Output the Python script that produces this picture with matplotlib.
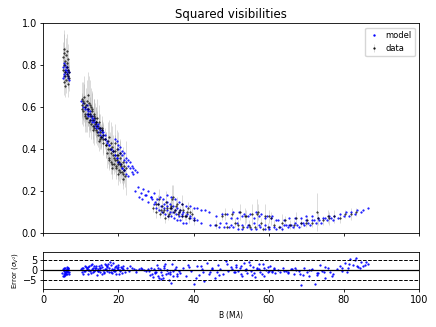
import numpy as np
import matplotlib
matplotlib.use("Agg")
import matplotlib.pyplot as plt

# model V2 points, grouped by baseline range (B in Mlambda)
mA_b = [5.2,5.4,5.5,5.7,5.8,6.0,6.1,6.3,6.4,6.6,6.7,6.9,5.3,5.6,5.9,6.2,6.5,6.8]
mA_v = [0.74,0.75,0.76,0.77,0.78,0.79,0.78,0.77,0.76,0.75,0.74,0.73,0.79,0.81,0.80,0.79,0.78,0.77]

mB_b = [10.0,10.5,11.0,11.5,12.0,12.5,13.0,13.5,14.0,14.5,
        10.5,11.0,11.5,12.0,12.5,13.0,13.5,14.0,14.5,15.0,15.5,
        11.5,12.0,12.5,13.0,13.5,14.0,14.5,15.0,15.5,16.0,16.5,
        12.0,12.5,13.0,13.5,14.0,14.5,15.0,15.5,16.0,16.5,17.0]
mB_v = [0.63,0.62,0.60,0.59,0.57,0.56,0.54,0.53,0.51,0.50,
        0.60,0.59,0.57,0.56,0.54,0.53,0.51,0.50,0.48,0.47,0.46,
        0.61,0.59,0.58,0.56,0.55,0.53,0.52,0.50,0.49,0.48,0.47,
        0.58,0.57,0.55,0.54,0.52,0.51,0.49,0.48,0.47,0.45,0.44]

mC_b = [16.5,17.0,17.5,18.0,18.5,19.0,19.5,20.0,20.5,21.0,21.5,
        17.5,18.0,18.5,19.0,19.5,20.0,20.5,21.0,21.5,22.0,22.5,
        19.0,19.5,20.0,20.5,21.0,21.5,22.0,22.5,23.0,23.5,24.0,24.5,25.0,
        20.0,20.5,21.0,21.5,22.0,22.5,23.0,23.5,24.0]
mC_v = [0.45,0.43,0.42,0.40,0.39,0.37,0.36,0.34,0.33,0.31,0.30,
        0.42,0.40,0.39,0.37,0.36,0.34,0.33,0.31,0.30,0.28,0.27,
        0.45,0.44,0.42,0.41,0.39,0.38,0.36,0.35,0.34,0.32,0.31,0.30,0.29,
        0.40,0.38,0.37,0.35,0.34,0.32,0.31,0.29,0.28]

mD_b = [24.5,25.2,25.9,26.6,27.3,28.0,28.7,29.4,25.5,26.3,27.1,27.9,28.7,29.5,30.3]
mD_v = [0.20,0.22,0.19,0.21,0.18,0.20,0.17,0.19,0.17,0.16,0.18,0.15,0.17,0.14,0.16]

mE_b = [29.0,29.8,30.6,31.4,32.2,33.0,33.8,34.6,35.4,36.2,37.0,
        31.0,31.9,32.8,33.7,34.6,35.5,36.4,37.3,38.2,39.1,40.0,
        32.0,33.0,34.0,35.0,36.0,37.0,38.0,39.0,40.0,41.0,42.0,
        33.0,34.0,35.0,36.0,37.0,38.0,39.0,40.0,41.0,42.0,43.0,44.0,
        30.0,30.8,31.6,32.4,33.2,34.0,34.8,35.6,36.4,37.2,38.0]
mE_v = [0.16,0.15,0.14,0.13,0.12,0.11,0.10,0.10,0.09,0.08,0.08,
        0.17,0.16,0.15,0.14,0.13,0.12,0.11,0.10,0.09,0.08,0.07,
        0.14,0.13,0.12,0.11,0.10,0.09,0.08,0.07,0.06,0.06,0.05,
        0.18,0.17,0.16,0.15,0.14,0.13,0.13,0.12,0.12,0.11,0.11,0.10,
        0.12,0.11,0.10,0.09,0.08,0.08,0.07,0.06,0.06,0.05,0.05]

mF_b = [46,47.5,49,50.5,52,53.5,55,56.5,58,59.5,61,
        50,51.5,53,54.5,56,57.5,59,60.5,62,
        44.5,45.7,46.9,48.1,49.3,50.5,51.7,52.9,54.1,55.3,56.5,57.7,58.9,60.1,
        47,48.5,50,51.5,53,54.5,56,57.5,59]
mF_v = [0.08,0.09,0.09,0.10,0.10,0.09,0.09,0.10,0.09,0.08,0.08,
        0.07,0.07,0.08,0.08,0.07,0.08,0.07,0.07,0.06,
        0.04,0.04,0.03,0.03,0.03,0.03,0.02,0.02,0.03,0.02,0.02,0.03,0.02,0.02,
        0.05,0.05,0.04,0.05,0.04,0.04,0.05,0.04,0.04]

mG_b = [62,63.5,65,66.5,68,69.5,71,72.5,74,75.5,77,78.5,80,81.5,83,84.5,
        64,65.5,67,68.5,70,71.5,73,74.5,76,77.5,79,80.5,82,83.5,85,86.5,
        60,61.5,63,64.5,66,67.5,69,70.5,72,73.5,75,76.5,
        62.5,64,65.5,67,68.5,70,71.5]
mG_v = [0.02,0.02,0.03,0.03,0.03,0.04,0.04,0.05,0.05,0.06,0.06,0.07,0.08,0.08,0.09,0.10,
        0.04,0.04,0.05,0.05,0.06,0.06,0.07,0.07,0.08,0.08,0.09,0.10,0.10,0.11,0.11,0.12,
        0.03,0.03,0.03,0.04,0.04,0.04,0.05,0.05,0.06,0.06,0.07,0.07,
        0.06,0.06,0.07,0.07,0.07,0.08,0.08]

# measured V2 with errors
dA_b = [5.2,5.3,5.4,5.5,5.6,5.7,5.8,5.9,6.0,6.1,6.2,6.3,6.4,6.5,6.6,6.7,6.8,6.9,5.5,5.9,6.3,6.6]
dA_v = [0.78,0.84,0.72,0.80,0.86,0.75,0.82,0.77,0.73,0.85,0.79,0.76,0.81,0.71,0.78,0.83,0.74,0.77,0.88,0.70,0.87,0.75]
dA_e = [0.05,0.07,0.06,0.08,0.09,0.06,0.07,0.05,0.06,0.08,0.07,0.05,0.06,0.06,0.05,0.07,0.06,0.05,0.09,0.05,0.08,0.06]

dB_b = [10.2,10.4,10.7,10.9,11.1,11.3,11.6,11.8,12.0,12.2,12.4,12.6,12.8,13.0,13.2,13.4,13.6,13.8,14.0,14.2,
        14.4,14.6,14.8,15.0,15.2,15.4,15.6,15.8,16.0,11.0,11.9,12.7,13.3,14.1,14.9,15.7,10.8,12.3,13.7,15.1,
        10.3,10.6,11.2,11.4,11.7,12.1,12.5,12.9,13.1,13.5,13.9,14.3,14.7,15.3,15.9,16.3,16.6]
dB_v = [0.61,0.64,0.58,0.62,0.60,0.55,0.63,0.57,0.59,0.53,0.61,0.56,0.52,0.58,0.54,0.50,0.57,0.52,0.49,0.55,
        0.51,0.47,0.53,0.48,0.50,0.46,0.49,0.45,0.47,0.56,0.66,0.60,0.49,0.53,0.44,0.50,0.65,0.57,0.55,0.45,
        0.59,0.63,0.57,0.61,0.55,0.62,0.54,0.59,0.51,0.56,0.53,0.48,0.50,0.46,0.43,0.45,0.42]
dB_e = [0.06,0.08,0.07,0.09,0.06,0.07,0.10,0.06,0.08,0.07,0.12,0.06,0.07,0.09,0.06,0.08,0.07,0.05,0.06,0.09,
        0.07,0.06,0.08,0.05,0.07,0.06,0.05,0.07,0.06,0.08,0.11,0.09,0.06,0.07,0.05,0.06,0.10,0.08,0.07,0.05,
        0.07,0.09,0.06,0.08,0.07,0.13,0.06,0.09,0.06,0.08,0.07,0.06,0.07,0.05,0.06,0.05,0.06]

dC_b = [16.8,17.0,17.3,17.5,17.8,18.0,18.2,18.5,18.7,19.0,19.2,19.4,19.7,19.9,20.1,20.4,20.6,20.9,21.1,21.4,
        21.7,22.0,17.6,18.4,19.1,19.8,20.5,21.2,18.9,20.2,
        17.1,17.4,17.9,18.3,18.6,19.3,19.6,20.0,20.3,20.8,21.3,21.6,19.5,18.1]
dC_v = [0.42,0.38,0.44,0.36,0.40,0.34,0.41,0.37,0.33,0.39,0.35,0.31,0.37,0.33,0.30,0.36,0.32,0.29,0.34,0.30,
        0.27,0.31,0.46,0.31,0.43,0.28,0.38,0.26,0.36,0.34,
        0.40,0.35,0.38,0.33,0.39,0.32,0.35,0.37,0.29,0.33,0.28,0.32,0.40,0.43]
dC_e = [0.06,0.07,0.09,0.05,0.08,0.06,0.10,0.07,0.05,0.08,0.06,0.05,0.07,0.06,0.05,0.08,0.06,0.05,0.07,0.06,
        0.05,0.13,0.08,0.05,0.09,0.05,0.07,0.05,0.06,0.06,
        0.07,0.05,0.06,0.05,0.08,0.05,0.06,0.11,0.05,0.06,0.05,0.07,0.09,0.10]

dE_b = [29.3,29.9,30.4,31.0,31.5,32.1,32.6,33.2,33.7,34.3,34.8,35.4,35.9,36.5,37.0,37.6,38.2,38.9,39.5,40.2,
        30.8,32.4,33.9,35.1,36.8,38.5,31.8,34.6,30.1,31.3,32.9,33.5,34.1,35.6,36.2,37.3,38.0,39.1]
dE_v = [0.12,0.10,0.14,0.09,0.13,0.11,0.15,0.08,0.12,0.16,0.10,0.13,0.09,0.11,0.14,0.08,0.10,0.07,0.09,0.06,
        0.16,0.07,0.13,0.11,0.08,0.12,0.10,0.17,0.14,0.11,0.12,0.09,0.12,0.14,0.10,0.11,0.08,0.10]
dE_e = [0.02,0.03,0.04,0.02,0.03,0.02,0.05,0.02,0.03,0.07,0.02,0.03,0.02,0.02,0.04,0.02,0.02,0.02,0.03,0.02,
        0.05,0.02,0.03,0.02,0.02,0.03,0.02,0.06,0.03,0.02,0.03,0.02,0.04,0.03,0.02,0.03,0.02,0.02]

dF_b = [46.0,47.5,49.0,50.2,51.0,52.3,53.1,54.0,54.8,55.6,56.4,57.2,58.0,58.9,59.7,60.5,61.4,
        48.3,51.8,53.6,55.1,56.9,58.5,60.0,
        62.8,64.3,65.7,67.2,68.6,70.1,71.6,73.0,74.5,76.0,77.4,78.9,80.3,81.8,83.2,
        63.5,66.8,69.9,72.8,75.7]
dF_v = [0.04,0.08,0.03,0.09,0.05,0.10,0.03,0.08,0.04,0.09,0.03,0.10,0.05,0.08,0.03,0.07,0.04,
        0.09,0.04,0.08,0.03,0.09,0.02,0.08,
        0.03,0.06,0.04,0.07,0.05,0.06,0.05,0.07,0.06,0.07,0.08,0.07,0.09,0.09,0.10,
        0.05,0.04,0.05,0.10,0.08]
dF_e = [0.02,0.02,0.01,0.03,0.02,0.04,0.01,0.03,0.02,0.05,0.01,0.04,0.02,0.06,0.02,0.03,0.02,
        0.03,0.02,0.04,0.01,0.07,0.01,0.03,
        0.01,0.02,0.02,0.03,0.02,0.02,0.02,0.03,0.02,0.03,0.03,0.02,0.02,0.03,0.02,
        0.04,0.02,0.02,0.09,0.03]

# residuals in units of sigma
rA_b = [5.1,5.2,5.3,5.4,5.5,5.6,5.7,5.8,5.9,6.0,6.1,6.2,6.3,6.4,6.5,6.6,6.7,6.8,6.9,5.4,5.8,6.2,6.6,5.6,6.0,6.4]
rA_v = [-1.5,-3.0,0.5,-2.0,1.2,-0.5,-2.5,0.8,-1.0,0.2,-1.8,1.5,-0.3,-2.2,0.9,-1.2,0.4,-0.8,-2.0,0.0,-1.5,-0.6,1.0,-2.8,-1.0,0.6]
rB_b = [10.1,10.4,10.7,11.0,11.2,11.5,11.8,12.0,12.3,12.6,12.9,13.1,13.4,13.7,14.0,14.3,14.6,14.9,15.2,15.5,
        15.8,16.1,16.4,16.7,17.0,17.3,17.6,17.9,18.2,18.5,18.8,19.1,19.4,19.7,20.0,20.3,20.6,20.9,21.3,21.7,
        10.6,11.4,12.2,13.0,13.8,14.6,15.4,16.2,17.0,17.8,18.6,19.4,20.2,21.0,11.9,13.5,15.1,16.7,18.3,19.9,
        10.3,10.9,11.6,12.1,12.8,13.3,13.9,14.5,15.0,15.6,16.3,16.9,17.5,18.1,18.7,19.2,19.8,20.5,21.1]
rB_v = [0.5,-1.0,1.2,-0.3,2.0,0.8,-1.8,1.5,-0.5,2.5,0.3,-1.2,1.8,-0.2,1.0,-2.5,0.6,2.2,-0.8,1.4,
        0.2,-1.5,3.0,0.7,-0.4,2.8,1.1,-1.0,0.4,3.5,-0.6,1.7,-2.0,0.9,2.6,-0.3,1.3,-1.4,0.5,-0.8,
        -2.0,1.5,-0.2,3.2,0.9,-0.5,2.4,-1.0,1.6,4.0,0.2,2.0,-2.2,1.0,0.0,-0.7,0.8,2.3,-1.6,0.6,
        1.0,-0.4,0.6,2.2,-1.4,0.9,2.0,-0.6,1.2,-1.8,0.5,1.9,-0.9,2.4,0.7,-0.3,1.5,0.2,2.0]
rC_b = [22.3,22.9,23.5,24.1,24.8,25.4,26.0,26.7,27.3,27.9,23.2,24.6,26.3]
rC_v = [0.8,-0.5,1.2,0.3,-0.2,0.6,1.0,0.1,-0.4,0.5,2.0,-1.0,0.4]
rD_b = [28.2,28.6,29.0,29.4,29.8,30.2,30.6,31.0,31.4,31.8,32.2,32.6,33.0,33.4,33.8,34.2,34.6,35.0,35.5,36.0,
        29.2,30.4,31.6,32.8,34.0,35.2,30.0,31.2,32.4,33.6,28.4,29.6,30.8,32.0,33.2,34.4,35.7]
rD_v = [-0.5,1.2,-2.0,0.3,-1.5,2.5,-3.0,0.6,-1.0,-4.0,1.8,-2.2,0.2,-5.0,-1.2,2.8,-2.8,0.5,-1.8,-0.6,
        -3.5,0.9,-2.5,-0.2,-6.5,1.5,-1.0,-4.5,3.0,-2.0,-2.6,-0.8,-3.8,1.0,-1.6,-0.4,-3.2]
rE_b = [36.5,37.2,38.0,38.7,39.4,40.1,40.8,41.5,42.2,42.9,43.6,44.3,45.0,45.7,46.4,47.1,47.8,48.5,49.2,49.9,
        38.4,40.6,42.6,44.8,46.9,48.9,42.0,44.0,46.2]
rE_v = [-1.5,0.8,-3.0,1.6,-0.6,-7.0,2.2,-2.4,0.4,-5.5,3.5,-1.2,1.0,-3.8,2.6,0.3,-1.8,4.5,-0.4,1.4,
        2.5,-4.0,-0.9,0.7,-2.6,3.2,1.8,-2.2,-1.0]
rF_b = [50.3,50.8,51.3,51.8,52.3,52.8,53.3,53.8,54.3,54.8,55.3,55.8,56.3,56.8,57.3,57.8,58.3,58.8,59.3,59.8,
        60.3,60.8,61.3,61.8,51.0,52.5,54.0,55.5,57.0,58.5,60.0,61.5,
        51.2,52.7,53.9,55.1,56.1,57.5,58.7,59.9,61.0]
rF_v = [0.5,-1.2,2.5,-0.3,1.0,-2.8,3.5,0.2,-1.5,4.2,-0.6,1.6,-3.5,0.8,2.8,-0.9,-2.0,1.2,0.0,-1.0,
        2.0,-0.4,0.9,-1.6,-0.8,1.8,-0.2,-2.4,0.6,3.0,-0.5,0.3,
        1.4,-2.0,0.6,2.4,-1.4,0.3,-3.0,1.6,-0.9]
rG_b = [62.4,63.1,63.8,64.5,65.2,65.9,66.6,67.3,68.0,68.7,69.4,70.1,70.8,71.5,72.2,72.9,73.6,74.3,75.0,75.7,
        76.4,77.1,64.0,66.2,68.4,70.6,72.8,75.0,65.0,67.0,69.0,71.2,73.0,74.8,76.8]
rG_v = [0.2,-0.8,1.0,-0.3,-1.5,0.5,-2.2,0.0,-0.6,-7.5,1.2,-1.0,-3.0,0.4,-6.8,-1.6,2.5,-0.5,-4.2,0.8,
        -1.2,-2.0,-0.4,0.6,-1.8,-0.2,-2.6,1.5,-1.0,1.2,-2.6,0.0,-1.4,-0.8,-3.0]
rH_b = [78.2,78.9,79.6,80.3,81.0,81.7,82.4,83.1,83.8,84.5,85.2,85.9,86.5,80.8,82.9,84.2,79.5,81.4,83.5,85.5]
rH_v = [0.5,2.0,-0.5,3.5,1.0,5.5,2.5,6.0,1.5,3.8,2.2,4.0,3.0,-1.0,4.8,0.8,1.2,2.8,1.8,2.6]

model_b = np.concatenate([mA_b, mB_b, mC_b, mD_b, mE_b, mF_b, mG_b])
model_v = np.concatenate([mA_v, mB_v, mC_v, mD_v, mE_v, mF_v, mG_v])
data_b = np.concatenate([dA_b, dB_b, dC_b, dE_b, dF_b])
data_v = np.concatenate([dA_v, dB_v, dC_v, dE_v, dF_v])
data_e = np.concatenate([dA_e, dB_e, dC_e, dE_e, dF_e])
res_b = np.concatenate([rA_b, rB_b, rC_b, rD_b, rE_b, rF_b, rG_b, rH_b])
res_v = np.concatenate([rA_v, rB_v, rC_v, rD_v, rE_v, rF_v, rG_v, rH_v])

fig = plt.figure(figsize=(4.36, 3.27), dpi=100)
ax = fig.add_axes([0.0993, 0.2875, 0.8617, 0.6407])
ax2 = fig.add_axes([0.0993, 0.1162, 0.8617, 0.1132])

ax.errorbar(data_b, data_v, yerr=data_e, fmt='.', color='k', ms=0.9,
            ecolor=(0.6, 0.6, 0.6, 0.4), elinewidth=0.6, label='data')
ax.plot(model_b, model_v, '.', color='blue', ms=1.1, label='model')
ax.set_xlim(0, 100)
ax.set_ylim(0, 1)
ax.set_xticks([0, 20, 40, 60, 80, 100])
ax.set_xticklabels([])
ax.set_title('Squared visibilities', fontsize=8.5, pad=4)
ax.legend(loc='upper right', fontsize=6, handlelength=1.2, borderpad=0.4, markerscale=1.3)

ax2.plot(res_b, res_v, '.', color='blue', ms=1.2)
ax2.axhline(0, color='k', lw=0.9)
ax2.axhline(5, color='k', lw=0.7, ls='--')
ax2.axhline(-5, color='k', lw=0.7, ls='--')
ax2.set_xlim(0, 100)
ax2.set_ylim(-9.5, 9)
ax2.set_yticks([-5, 0, 5])
ax2.set_xlabel(r'B (M$\lambda$)', fontsize=5.5, labelpad=3)
ax2.set_ylabel(r'Error ($\sigma_{V^2}$)', fontsize=5, labelpad=2)

for a in (ax, ax2):
    a.tick_params(labelsize=7, length=2.5, width=0.6, pad=2)
    for s in a.spines.values():
        s.set_linewidth(0.6)

fig.savefig('out.png', dpi=100)
